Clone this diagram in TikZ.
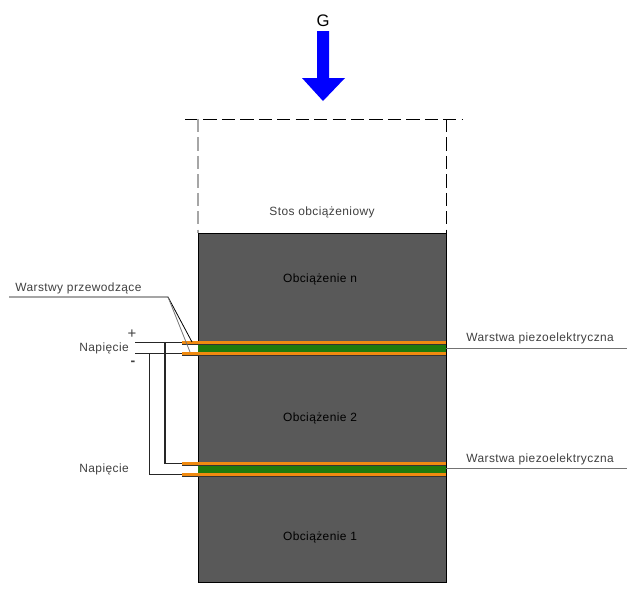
\documentclass[tikz,border=0pt]{standalone}
\usepackage{fontspec}
\setmainfont{Liberation Sans}[LetterSpace=3.5]
\usepackage{tikz}
\usetikzlibrary{positioning,calc}
\definecolor{ladunek}{HTML}{595959}
\definecolor{piezo}{HTML}{1F7A0C}
\definecolor{miedz}{HTML}{F08A10}
\tikzset{
  opis/.style={font=\fontsize{6.8pt}{8pt}\selectfont,text=black!75,inner sep=0pt},
  wire/.style={line width=1pt,black!85},
  leader/.style={line width=0.45pt,black!55},
  kreski/.style={dash pattern=on 7.5pt off 3pt,line width=0.45pt},
  warstwa/.style={fill=miedz,draw=none},
  krawedz/.style={line width=0.35pt,black!80}
}
\begin{document}
\begin{tikzpicture}[x=0.02cm,y=-0.02cm]
\useasboundingbox (0,0) rectangle (640,600);
\fill[white] (0,0) rectangle (640,600);
% blok obciazenia
\draw[fill=ladunek,line width=0.45pt] (198,233) rectangle (446,582);
\draw[kreski] (185,119) -- (462,119);
\draw[kreski,black!35,line width=0.6pt] (198,119) -- (198,233);
\draw[kreski] (446,119) -- (446,233);
% sila G
\fill[blue] (317,31) -- (329,31) -- (329,78) -- (345,78) -- (323,101) -- (302,78) -- (317,78) -- cycle;
\node[font=\fontsize{9.5pt}{10pt}\selectfont,inner sep=0pt] (sila) at (323,20.5) {G};
% przewody
\coordinate (g1) at (182,342.5);
\coordinate (g2) at (182,353.5);
\coordinate (d1) at (182,463.5);
\coordinate (d2) at (182,474.5);
\draw[wire] (135,342.5) -- (g1);
\draw[wire] (135,353.5) -- (g2);
\draw[wire] (165,342.5) |- (d1);
\draw[wire] (149.5,353.5) |- (d2);
% warstwy gorne
\fill[piezo] (198,344.5) rectangle (446,352);
\draw[warstwa] (182,341) rectangle (446,344.5);
\draw[warstwa] (182,352) rectangle (446,355.5);
\draw[krawedz] (182,344.5) -- (446,344.5);
\draw[krawedz] (182,355.5) -- (446,355.5);
% warstwy dolne
\fill[piezo] (198,465.5) rectangle (446,473);
\draw[warstwa] (182,462) rectangle (446,465.5);
\draw[warstwa] (182,473) rectangle (446,476.5);
\draw[krawedz] (182,465.5) -- (446,465.5);
\draw[krawedz] (182,476.5) -- (446,476.5);
% odnosniki
\coordinate (w0) at (9,297);
\coordinate (w1) at (168,297);
\draw[line width=0.45pt] (w0) -- (w1) -- (192,342);
\draw[leader] (w1) -- (190,352);
\draw[leader] (446,348) -- (627,348);
\draw[leader] (446,468) -- (627,468);
% opisy
\node[opis,anchor=west] (przew) at (15,288) {Warstwy przewodzące};
\node[opis,anchor=west] (nap1) at (79,348) {Napięcie};
\node[opis,anchor=west] (nap2) at (79,469) {Napięcie};
\node[opis,font=\fontsize{8.5pt}{9pt}\selectfont] (plus) at (132,334) {+};
\node[opis,font=\fontsize{8pt}{9pt}\bfseries\selectfont] (minus) at (133,363) {-};
\node[opis] (stos) at (322,212.5) {Stos obciążeniowy};
\node[opis,text=black] (obn) at (320,279.5) {Obciążenie n};
\node[opis,text=black] (ob2) at (320,418.5) {Obciążenie 2};
\node[opis,text=black] (ob1) at (320,537.5) {Obciążenie 1};
\node[opis,anchor=west] (pz1) at (466,338) {Warstwa piezoelektryczna};
\node[opis,anchor=west] (pz2) at (466,459) {Warstwa piezoelektryczna};
\end{tikzpicture}
\end{document}
